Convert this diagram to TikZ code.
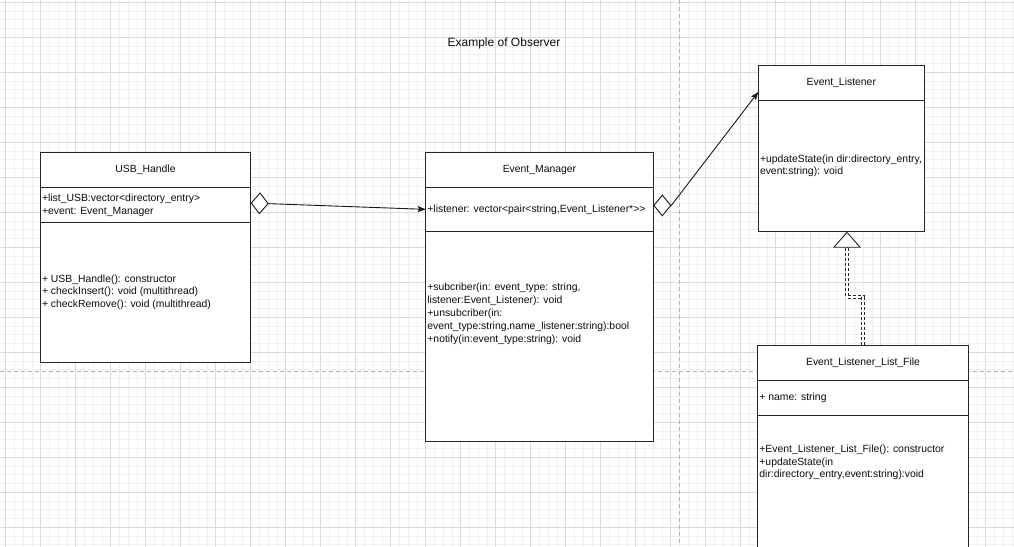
\documentclass[tikz,border=0pt]{standalone}
\usepackage{fontspec}
\setmainfont{Liberation Sans}
\usetikzlibrary{positioning,arrows.meta}

\begin{document}
\begin{tikzpicture}[x=1pt, y=-1pt,
    box/.style={draw=black!85, line width=1pt, fill=white, anchor=north west, inner sep=0pt, outer sep=0pt,
        font=\fontsize{10.4}{12.8}\selectfont, text=black!95},
    txt/.style={font=\fontsize{10.4}{12.8}\selectfont, text=black!95, align=left, inner sep=0pt},
    minorgrid/.style={draw=black!6, line width=0.8pt},
    majorgrid/.style={draw=black!14, line width=0.8pt},
    pagebrk/.style={draw=black!30, line width=0.8pt, dash pattern=on 4pt off 3pt},
    assoc/.style={draw=black!90, line width=0.9pt,
        {Diamond[length=18pt, width=22pt, fill=white]}-{Stealth[length=8pt, width=6pt, inset=1.5pt]}},
    realize/.style={draw=black!85, line width=0.8pt, double=white, double distance=2.3pt,
        dash pattern=on 3.3pt off 1.7pt},
    gen/.style={draw=black!85, line width=0.9pt, -{Triangle[length=16pt, width=28pt, fill=white]}}
]

\useasboundingbox (0,0) rectangle (1014,546);
\clip (0,0) rectangle (1014,546);
\fill[white] (0,0) rectangle (1014,546);

% Background grid
\begin{scope}[shift={(5.7,2.3)}]
    \draw[minorgrid, step=8.75pt] (-10,-10) grid (1020,550);
    \draw[majorgrid, step=35pt] (-10,-10) grid (1020,550);
\end{scope}

% Page breaks
\draw[pagebrk] (679,0) -- (679,546);
\draw[pagebrk] (0,371.7) -- (1014,371.7);

% Title
\node[txt, font=\fontsize{12}{14}\selectfont] (ttl) at (504,43) {Example of Observer};

% USB_Handle
\node[box, minimum width=210.4pt, minimum height=35.4pt] (usb1) at (40.3,152.3) {USB\_Handle};
\node[box, minimum width=210.4pt, minimum height=34.6pt] (usb2) at (usb1.south west) {};
\node[box, minimum width=210.4pt, minimum height=140pt] (usb3) at (usb2.south west) {};
\node[txt, right=1.5pt of usb2.west] (usbattr) {+list\_USB:vector<directory\_entry>\\+event: Event\_Manager};
\node[txt, right=1.5pt of usb3.west] (usbops) {+ USB\_Handle(): constructor\\+ checkInsert(): void (multithread)\\+ checkRemove(): void (multithread)};

% Event_Manager
\node[box, minimum width=227.6pt, minimum height=35pt] (em1) at (425.7,152.7) {Event\_Manager};
\node[box, minimum width=227.6pt, minimum height=43.3pt] (em2) at (em1.south west) {};
\node[box, minimum width=227.6pt, minimum height=210.7pt] (em3) at (em2.south west) {};
\node[txt, right=1.5pt of em2.west] (emattr) {+listener: vector<pair<string,Event\_Listener*>{}>};
\node[txt, right=1.5pt of em3.west, yshift=22.6pt] (emops) {+subcriber(in: event\_type: string,\\listener:Event\_Listener): void\\+unsubcriber(in:\\event\_type:string,name\_listener:string):bool\\+notify(in:event\_type:string): void};

% Event_Listener
\node[box, minimum width=166pt, minimum height=35pt] (el1) at (758.3,65) {Event\_Listener};
\node[box, minimum width=166pt, minimum height=131.7pt] (el2) at (el1.south west) {};
\node[txt, right=1.5pt of el2.west] (elops) {+updateState(in dir:directory\_entry,\\event:string): void};

% Event_Listener_List_File
\node[box, minimum width=210.6pt, minimum height=35pt] (elf1) at (757.7,345) {Event\_Listener\_List\_File};
\node[box, minimum width=210.6pt, minimum height=35pt] (elf2) at (elf1.south west) {};
\node[box, minimum width=210.6pt, minimum height=160pt] (elf3) at (elf2.south west) {};
\node[txt, right=1.5pt of elf2.west] (elfattr) {+ name: string};
\node[txt, anchor=west] (elfops) at ([xshift=1.5pt, yshift=-47.5pt]elf3.north west) {+Event\_Listener\_List\_File(): constructor\\+updateState(in\\dir:directory\_entry,event:string):void};

% Aggregations
\draw[assoc] ([yshift=2pt]usb2.east) -- (em2.west);
\draw[assoc] ([yshift=3.9pt]em2.east) -- ++(18,0) -- ([yshift=-9.5pt]el1.west);

% Realization
\coordinate (elbase) at ([xshift=5.7pt, yshift=-16pt]el2.south);
\draw[realize] (elf1.north) -- ++(0,-48) -| (elbase);
\draw[gen] (elbase) -- ([xshift=5.7pt]el2.south);

\end{tikzpicture}
\end{document}
